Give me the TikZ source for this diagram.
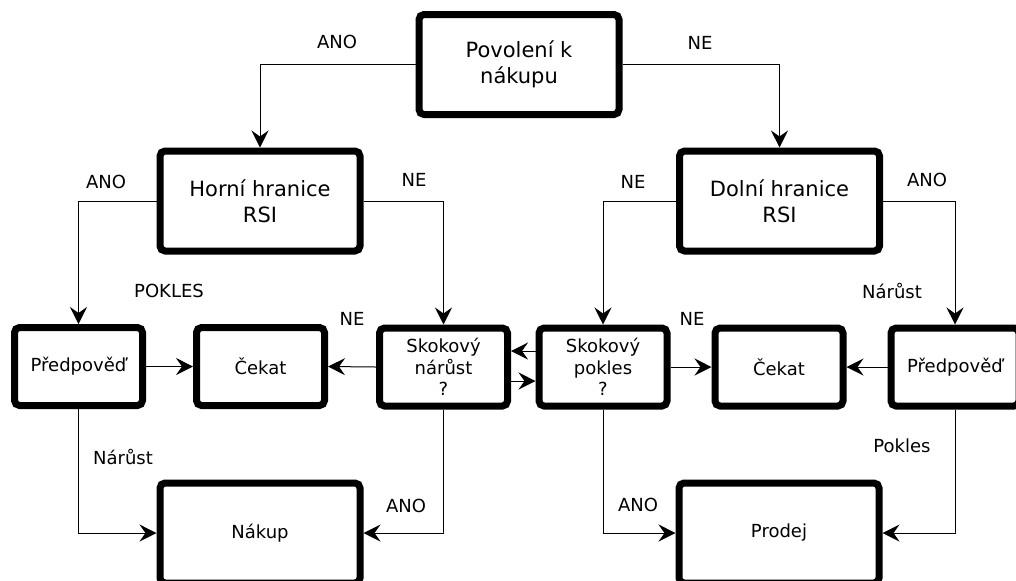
\documentclass[tikz,border=0pt]{standalone}
\usepackage{fontspec}
\setmainfont{DejaVu Sans}
\usetikzlibrary{arrows.meta}
\tikzset{
  box/.style = {draw=black, line width=3.5pt, rounded corners=2.5pt, align=center,
    inner sep=0pt, fill=white},
  bigbox/.style = {box, minimum width=100pt, minimum height=50pt, font=\fontsize{10.5}{13}\selectfont},% velke bloky
  smallbox/.style = {box, minimum width=64pt, minimum height=39pt, font=\fontsize{9}{10.75}\selectfont},% mensi bloky
  endbox/.style = {bigbox, font=\fontsize{9}{11}\selectfont},% koncove bloky
  lbl/.style = {inner sep=0pt, font=\fontsize{9}{11}\selectfont},% popisky vetvi
}
\begin{document}
\begin{tikzpicture}[x=0.5pt,y=-0.5pt,->,>={Stealth[length=8.5pt,width=8.5pt,inset=3pt]},
  line width=0.5pt]
\useasboundingbox (0,0) rectangle (1016,580);
\clip (0,0) rectangle (1016,580);
% bloky
\node [bigbox] (povoleni) at (519,64.5) {Povolení k\\nákupu};
\node [bigbox] (horni) at (260,201) {Horní hranice\\RSI};
\node [bigbox] (dolni) at (779.5,201) {Dolní hranice\\RSI};
\node [smallbox] (predL) at (78.5,366.5) {Předpověď};
\node [smallbox] (cekatL) at (260.5,366.5) {Čekat};
\node [smallbox] (skokN) at (443.5,367) {Skokový\\nárůst\\?};
\node [smallbox] (skokP) at (603,367) {Skokový\\pokles\\?};
\node [smallbox] (cekatR) at (779,367) {Čekat};
\node [smallbox] (predR) at (955,367) {Předpověď};
\node [endbox] (nakup) at (260,533) {Nákup};
\node [endbox] (prodej) at (779,533) {Prodej};
% spojnice
\draw (povoleni.west) -| (horni.north);
\draw (povoleni.east) -| (dolni.north);
\draw (horni.west) -| (predL.north);
\draw (horni.east) -| (skokN.north);
\draw (dolni.west) -| (skokP.north);
\draw (dolni.east) -| (predR.north);
\draw (predL.east) -- (cekatL.west);
\draw (skokN.west) -- (cekatL.east);
\draw ([yshift=8pt]skokP.west) -- ([yshift=8pt]skokN.east);
\draw ([yshift=-7pt]skokN.east) -- ([yshift=-7pt]skokP.west);
\draw (skokP.east) -- (cekatR.west);
\draw (predR.west) -- (cekatR.east);
\draw (predL.south) |- (nakup.west);
\draw (skokN.south) |- (nakup.east);
\draw (skokP.south) |- (prodej.west);
\draw (predR.south) |- (prodej.east);
% popisky
\node [lbl] (l1) at (337,42) {ANO};
\node [lbl] (l2) at (700,43) {NE};
\node [lbl] (l3) at (106,182) {ANO};
\node [lbl] (l4) at (414,180) {NE};
\node [lbl] (l5) at (633,182) {NE};
\node [lbl] (l6) at (927,180) {ANO};
\node [lbl] (l7) at (169,291) {POKLES};
\node [lbl] (l8) at (892,291) {Nárůst};
\node [lbl] (l9) at (352,319) {NE};
\node [lbl] (l10) at (692,319) {NE};
\node [lbl] (l11) at (123,457) {Nárůst};
\node [lbl] (l12) at (902,446) {Pokles};
\node [lbl] (l13) at (406,506) {ANO};
\node [lbl] (l14) at (638,505) {ANO};
\end{tikzpicture}
\end{document}
